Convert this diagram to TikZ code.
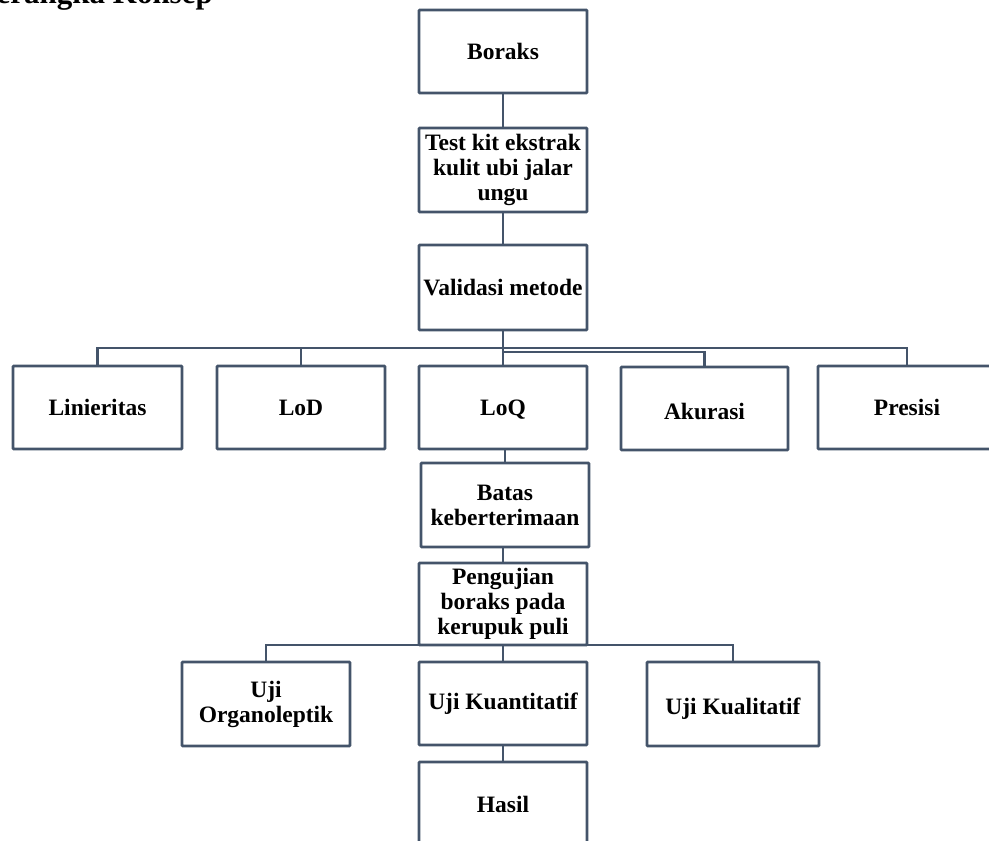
\documentclass[tikz,border=0pt]{standalone}
\usepackage{fontspec}
\setmainfont{Liberation Serif}
\definecolor{boxc}{HTML}{44546A}
\begin{document}
\begin{tikzpicture}[x=1pt,y=-1pt,
  box/.style={draw=boxc, line width=2.8pt, rectangle, rounded corners=0.8pt,
    minimum width=168pt, minimum height=83pt, inner sep=0pt, align=center,
    font=\bfseries\fontsize{23.5}{25}\selectfont, text=black},
  conn/.style={draw=boxc, line width=2.8pt}]
\useasboundingbox (0,0) rectangle (989,841);
\clip (0,0) rectangle (989,841);

\node[anchor=base east, inner sep=0pt, font=\bfseries\fontsize{31}{33}\selectfont] (title) at (213,3) {Kerangka Konsep};

\node[box] (bor) at (503,51.5) {Boraks};
\node[box, minimum height=84pt] (kit) at (503,170) {Test kit ekstrak\\kulit ubi jalar\\ungu};
\node[box, minimum height=85pt] (val) at (503,287.5) {Validasi metode};

\node[box, minimum width=169pt] (lin) at (97.5,407.5) {Linieritas};
\node[box] (lod) at (301,407.5) {LoD};
\node[box, text depth=0pt] (loq) at (503,407.5) {LoQ};
\node[box, minimum width=167pt, text height=22pt, text depth=0pt] (aku) at (704.5,408.5) {Akurasi};
\node[box, minimum width=178pt] (pre) at (907,407.5) {Presisi};

\node[box, minimum height=84pt] (bat) at (505,505) {Batas\\keberterimaan};
\node[box, minimum height=82pt] (pen) at (503,604) {Pengujian\\boraks pada\\kerupuk puli};

\node[box, minimum height=84pt] (org) at (266,704) {Uji\\Organoleptik};
\node[box] (kuan) at (503,703.5) {Uji Kuantitatif};
\node[box, minimum width=172pt, minimum height=84pt, text height=26.5pt, text depth=5pt] (kual) at (733,704) {Uji Kualitatif};

\node[box, minimum height=84pt] (has) at (503,804) {Hasil};

% connectors
\draw[conn] (bor.south) -- (kit.north);
\draw[conn] (kit.south) -- (val.north);

\coordinate (bus) at (503,348);
\coordinate (bustwo) at (503,352);
\draw[conn] (val.south) -- (bus);
\draw[conn] (lin.north) -- (lin.north |- bus) -- (pre.north |- bus) -- (pre.north);
\draw[conn] (lod.north) -- (lod.north |- bus);
\draw[conn] (bus) -- (loq.north);
\draw[conn] (bustwo) -| ([yshift=-1.5pt]aku.north);

\draw[conn] (loq.south -| bat.north) -- (bat.north);
\draw[conn] (bat.south -| pen.north) -- (pen.north);

\coordinate (busb) at (503,645);
\draw[conn] (org.north) -- (org.north |- busb) -- (kual.north |- busb) -- (kual.north);
\draw[conn] (busb) -- (kuan.north);
\draw[conn] (kuan.south) -- (has.north);
\end{tikzpicture}
\end{document}
